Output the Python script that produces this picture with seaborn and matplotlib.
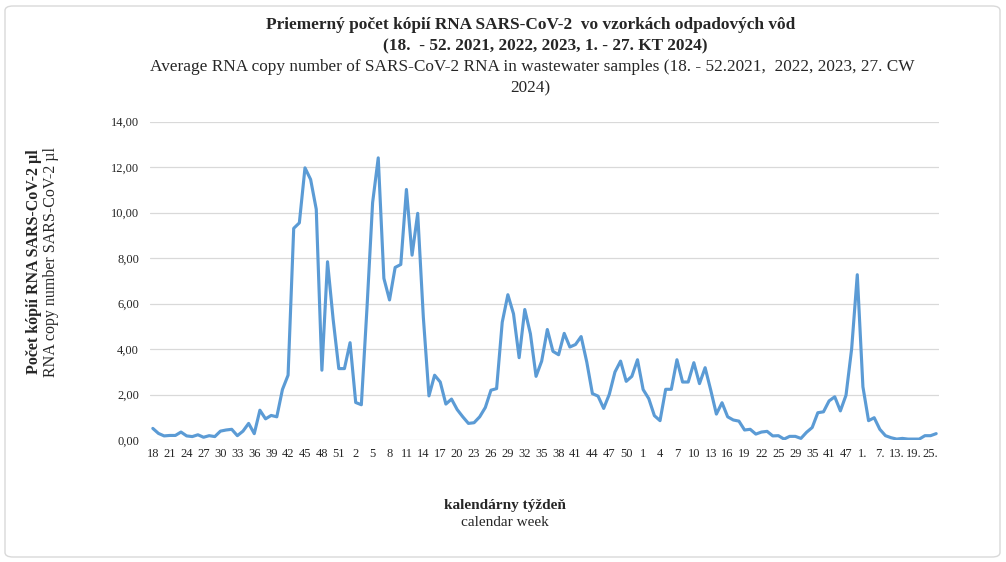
import numpy as np
import pandas as pd
import seaborn as sns
import matplotlib.pyplot as plt
from matplotlib.patches import FancyBboxPatch
from matplotlib.ticker import FuncFormatter

# calendar weeks on the category axis (2023 and 2024 partly biweekly)
weeks_2021 = list(range(18, 53))
weeks_2022 = list(range(1, 53))
weeks_2023 = list(range(1, 26)) + [26, 27] + list(range(29, 52, 2))
weeks_2024 = list(range(1, 28, 2))

# average RNA copies per ul
values_2021 = [0.51, 0.29, 0.18, 0.20, 0.20, 0.35, 0.18, 0.15, 0.23, 0.12,
               0.19, 0.15, 0.39, 0.44, 0.47, 0.19, 0.39, 0.73, 0.28, 1.31,
               0.93, 1.08, 1.02, 2.22, 2.85, 9.31, 9.55, 11.97, 11.46, 10.15,
               3.07, 7.84, 5.30, 3.14, 3.14]
values_2022 = [4.28, 1.65, 1.55, 5.80, 10.44, 12.41, 7.11, 6.16, 7.59, 7.72,
               11.02, 8.13, 9.97, 5.40, 1.94, 2.85, 2.55, 1.58, 1.80, 1.34,
               1.02, 0.73, 0.76, 1.02, 1.43, 2.19, 2.26, 5.18, 6.39, 5.55,
               3.62, 5.74, 4.67, 2.80, 3.47, 4.86, 3.90, 3.75, 4.69, 4.09,
               4.20, 4.55, 3.43, 2.04, 1.93, 1.39, 2.01, 2.99, 3.47, 2.58,
               2.80, 3.53]
values_2023 = [2.22, 1.82, 1.07, 0.85, 2.23, 2.23, 3.53, 2.55, 2.55, 3.40,
               2.48, 3.18, 2.19, 1.14, 1.64, 1.02, 0.88, 0.83, 0.44, 0.47,
               0.26, 0.35, 0.38, 0.18, 0.19, 0.04, 0.16, 0.16, 0.07, 0.34,
               0.55, 1.20, 1.24, 1.72, 1.90, 1.28, 1.97, 4.01, 7.27]
values_2024 = [2.34, 0.85, 0.98, 0.47, 0.19, 0.10, 0.04, 0.07, 0.04, 0.04,
               0.04, 0.19, 0.19, 0.28]

labels = [str(w) for w in weeks_2021 + weeks_2022 + weeks_2023] + ["{}.".format(w) for w in weeks_2024]
values = values_2021 + values_2022 + values_2023 + values_2024
df = pd.DataFrame({"pos": np.arange(len(labels)), "value": values})

sns.set_theme(style="white")
plt.rcParams['font.family'] = ['Liberation Serif', 'DejaVu Serif']

W, H = 1006, 562
fig = plt.figure(figsize=(W / 100, H / 100), dpi=100)
fig.patch.set_facecolor("white")

# rounded chart-area border
fig.patches.append(FancyBboxPatch((5 / W, 5 / H), 995 / W, 551 / H, boxstyle="round,pad=0,rounding_size=0.008",
                                  transform=fig.transFigure, fill=False, edgecolor="#D9D9D9", linewidth=1))

ax = fig.add_axes([150 / W, 1 - 440 / H, 789 / W, 318.3 / H])
sns.lineplot(data=df, x="pos", y="value", color="#5B9BD5", linewidth=2.25, ax=ax)

ax.set_xlim(-0.5, len(labels) - 0.5)
ax.set_ylim(0, 14)
ax.set_yticks(np.arange(0, 15, 2))
ax.yaxis.set_major_formatter(FuncFormatter(lambda v, p: "{:.2f}".format(v).replace(".", ",")))
ax.set_xticks(df["pos"][::3])
ax.set_xticklabels(labels[::3])
ax.tick_params(axis="both", length=0, labelsize=9, colors="#262626")
ax.tick_params(axis="y", pad=8)
ax.tick_params(axis="x", pad=6)
ax.yaxis.grid(True, color="#D9D9D9", linewidth=0.9)
ax.xaxis.grid(False)
for s in ax.spines.values():
    s.set_visible(False)
ax.set_xlabel("")
ax.set_ylabel("")

# titles
fig.text(531 / W, 1 - 25 / H, "Priemerný počet kópií RNA SARS-CoV-2  vo vzorkách odpadových vôd",
         ha="center", va="center", fontsize=12.4, fontweight="bold")
fig.text(545 / W, 1 - 46 / H, "(18.  - 52. 2021, 2022, 2023, 1. - 27. KT 2024)",
         ha="center", va="center", fontsize=12.4, fontweight="bold")
fig.text(532 / W, 1 - 67 / H, "Average RNA copy number of SARS-CoV-2 RNA in wastewater samples (18. - 52.2021,  2022, 2023, 27. CW",
         ha="center", va="center", fontsize=12.4)
fig.text(530 / W, 1 - 88 / H, "2024)", ha="center", va="center", fontsize=12.4)

# axis titles
fig.text(34 / W, 1 - 262 / H, "Počet kópií RNA SARS-CoV-2 µl", rotation=90,
         ha="center", va="center", fontsize=11.5, fontweight="bold")
fig.text(51 / W, 1 - 262 / H, "RNA copy number SARS-CoV-2 µl", rotation=90,
         ha="center", va="center", fontsize=11.5)
fig.text(505 / W, 1 - 505 / H, "kalendárny týždeň", ha="center", va="center", fontsize=11, fontweight="bold")
fig.text(505 / W, 1 - 523 / H, "calendar week", ha="center", va="center", fontsize=11)

fig.savefig("out.png", dpi=100, facecolor="white")
